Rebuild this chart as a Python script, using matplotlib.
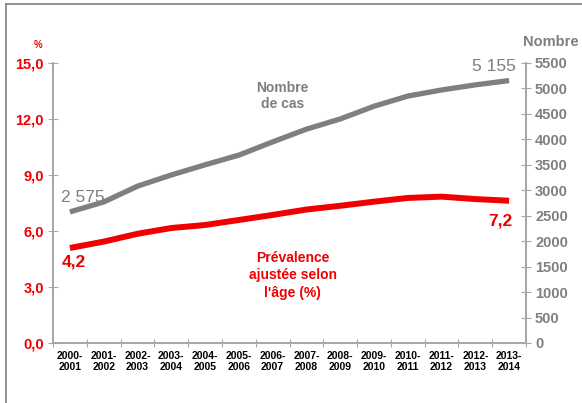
import matplotlib
matplotlib.use("Agg")
import matplotlib.pyplot as plt
from matplotlib.lines import Line2D

plt.rcParams['font.family'] = ['Liberation Sans', 'DejaVu Sans']

# données
periodes = ["2000-\n2001", "2001-\n2002", "2002-\n2003", "2003-\n2004", "2004-\n2005",
            "2005-\n2006", "2006-\n2007", "2007-\n2008", "2008-\n2009", "2009-\n2010",
            "2010-\n2011", "2011-\n2012", "2012-\n2013", "2013-\n2014"]
nombre_cas = [2575, 2770, 3080, 3300, 3500, 3690, 3950, 4200, 4400, 4650,
              4850, 4970, 5070, 5155]
# position de la courbe rouge telle que tracée (axe %)
prevalence = [5.09, 5.43, 5.85, 6.16, 6.32, 6.59, 6.86, 7.15, 7.35, 7.57,
              7.77, 7.84, 7.71, 7.62]
labels_cas = ["2 575", "5 155"]
labels_prev = ["4,2", "7,2"]
ticks_pct = [0, 3, 6, 9, 12, 15]
ticks_nb = list(range(0, 5501, 500))

RED = "#f00000"
GRAY = "#7f7f7f"
AXC = "#a6a6a6"

fig = plt.figure(figsize=(5.82, 4.03), dpi=100)
ax = fig.add_axes([0.0911, 0.1489, 0.8127, 0.6948])
ax2 = ax.twinx()

x = list(range(len(periodes)))
ax2.plot(x, nombre_cas, color=GRAY, lw=3.8, solid_capstyle='butt')
ax.plot(x, prevalence, color=RED, lw=4.3, solid_capstyle='butt')
ax.set_zorder(ax2.get_zorder() + 1)
ax.patch.set_visible(False)

ax.set_xlim(-0.5, 13.5)
ax.set_ylim(0, 15)
ax2.set_ylim(0, 5500)

ax.set_yticks(ticks_pct)
ax.set_yticklabels([f"{t:.1f}".replace(".", ",") for t in ticks_pct],
                   color=RED, fontsize=10.5, fontweight='bold')
ax2.set_yticks(ticks_nb)
ax2.set_yticklabels([str(t) for t in ticks_nb], color=GRAY, fontsize=10.5,
                    fontweight='bold')

ax.set_xticks([i + 0.5 for i in range(-1, len(periodes))])
ax.set_xticklabels([])
ax.set_xticks(x, minor=True)
ax.set_xticklabels(periodes, minor=True, fontsize=7.5, fontweight='bold',
                   linespacing=1.1)
ax.tick_params(axis='x', which='minor', length=0, pad=6)
ax.tick_params(axis='x', which='major', direction='inout', length=6, color=AXC)
ax.tick_params(axis='y', direction='inout', length=7, color=AXC, pad=3)
ax2.tick_params(axis='y', direction='inout', length=7, color=AXC, pad=3)

for a in (ax, ax2):
    a.spines['top'].set_visible(False)
    for s in ('left', 'right', 'bottom'):
        a.spines[s].set_color(AXC)
        a.spines[s].set_linewidth(1.2)

# étiquettes des valeurs
ax2.text(x[0] - 0.25, nombre_cas[0] + 130, labels_cas[0], color=GRAY,
         fontsize=12.5, ha='left', va='bottom')
ax2.text(x[-1] + 0.2, nombre_cas[-1] + 120, labels_cas[1], color=GRAY,
         fontsize=12.5, ha='right', va='bottom')
ax.text(x[0] - 0.25, prevalence[0] - 0.35, labels_prev[0], color=RED,
        fontsize=12.5, fontweight='bold', ha='left', va='top')
ax.text(x[-1] + 0.1, prevalence[-1] - 0.7, labels_prev[1], color=RED,
        fontsize=12.5, fontweight='bold', ha='right', va='top')

ax.text(6.3, 13.25, "Nombre\nde cas", color=GRAY, fontsize=10,
        fontweight='bold', ha='center', va='center', linespacing=1.2)
ax.text(6.6, 3.62, "Prévalence\najustée selon\nl'âge (%)", color=RED,
        fontsize=10, fontweight='bold', ha='center', va='center',
        linespacing=1.3)

fig.text(38 / 582, 1 - 45 / 403, "%", color=RED, fontsize=7, fontweight='bold',
         ha='center', va='center')
fig.text(551 / 582, 1 - 42 / 403, "Nombre", color=GRAY, fontsize=10.5,
         fontweight='bold', ha='center', va='center')

# cadre
fig.add_artist(Line2D([6 / 582, 6 / 582], [0, 1 - 4 / 403], color="#808080", lw=1.2))
fig.add_artist(Line2D([6 / 582, 1], [1 - 4 / 403, 1 - 4 / 403], color="#808080", lw=1.2))

fig.savefig("out.png", dpi=100)
